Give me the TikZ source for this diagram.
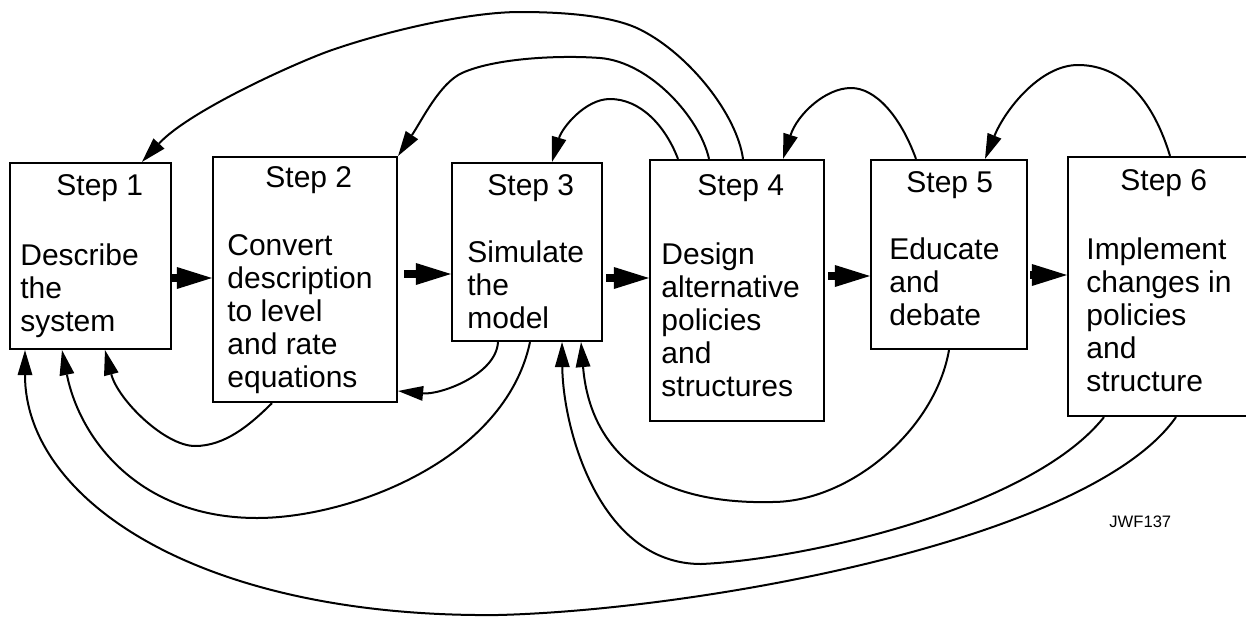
\documentclass[tikz,border=0pt]{standalone}
\usepackage{fontspec}
\setmainfont{Liberation Sans}
\usetikzlibrary{arrows.meta,fit}
\begin{document}
\begin{tikzpicture}[x=0.5pt,y=-0.5pt,
  box/.style={draw, line width=1.1pt, inner sep=0pt},
  ttl/.style={anchor=base west, inner sep=0pt, font=\fontsize{15}{16.5}\selectfont},
  body/.style={anchor=base west, inner sep=0pt, font=\fontsize{15}{16.5}\selectfont},
  fwd/.style={line width=4.2pt, -{Triangle[length=17.5pt,width=11pt,line width=0pt]}},
  fb/.style={line width=1pt, -{Triangle[length=12.5pt,width=7.5pt,line width=0pt]}}
]
\useasboundingbox (0,0) rectangle (1246,616);

% boxes
\node[box, fit={(10,163)(171,349)}] (b1) {};
\node[box, fit={(213,157)(397,402)}] (b2) {};
\node[box, fit={(452,163)(602,341)}] (b3) {};
\node[box, fit={(650,160)(824,421)}] (b4) {};
\node[box, fit={(871,160)(1027,349)}] (b5) {};
\node[box, fit={(1068,157)(1262,416)}] (b6) {};

% texts
\node[ttl] (s1) at (56,195) {Step 1};
\node[body] (x1) at (20,265) {\begin{tabular}[t]{@{}l@{}}Describe\\the\\system\end{tabular}};
\node[ttl] (s2) at (265,187) {Step 2};
\node[body] (x2) at (227,255) {\begin{tabular}[t]{@{}l@{}}Convert\\description\\to level\\and rate\\equations\end{tabular}};
\node[ttl] (s3) at (487,195) {Step 3};
\node[body] (x3) at (467,262) {\begin{tabular}[t]{@{}l@{}}Simulate\\the\\model\end{tabular}};
\node[ttl] (s4) at (697,195) {Step 4};
\node[body] (x4) at (661,264) {\begin{tabular}[t]{@{}l@{}}Design\\alternative\\policies\\and\\structures\end{tabular}};
\node[ttl] (s5) at (906,192) {Step 5};
\node[body] (x5) at (889,259) {\begin{tabular}[t]{@{}l@{}}Educate\\and\\debate\end{tabular}};
\node[ttl] (s6) at (1120,190) {Step 6};
\node[body] (x6) at (1086,259) {\begin{tabular}[t]{@{}l@{}}Implement\\changes in\\policies\\and\\structure\end{tabular}};

\node[anchor=base west, inner sep=0pt, font=\fontsize{8.3}{10}\selectfont] (code) at (1109,527) {JWF137};

% forward arrows
\draw[fwd] (b1.east |- 0,278) -- (b2.west |- 0,278);
\draw[fwd, shorten <=3pt] (b2.east |- 0,274) -- (b3.west |- 0,274);
\draw[fwd, shorten <=1.5pt] (b3.east |- 0,278) -- (b4.west |- 0,278);
\draw[fwd, shorten <=1.5pt] (b4.east |- 0,276) -- (b5.west |- 0,276);
\draw[fwd, shorten <=1pt] (b5.east |- 0,275) -- (b6.west |- 0,275);

% top feedback arcs
\draw[fb] (b4.north -| 743,0) .. controls (737,115) and (690,55) .. (641,30)
  .. controls (612,15) and (560,12) .. (520,12)
  .. controls (470,12) and (390,30) .. (332,50)
  .. controls (300,61) and (190,110) .. (b1.north -| 142,0);
\draw[fb] (b4.north -| 709,0) .. controls (700,118) and (650,62) .. (600,58)
  .. controls (560,55) and (495,58) .. (462,73)
  .. controls (440,83) and (422,120) .. (b2.north east);
\draw[fb] (b4.north -| 678,0) .. controls (665,125) and (640,99) .. (610,99)
  .. controls (585,99) and (562,128) .. (b3.north -| 552,0);
\draw[fb] (b5.north -| 916,0) .. controls (900,115) and (875,88) .. (851,88)
  .. controls (825,88) and (797,115) .. (b4.north -| 783,0);
\draw[fb] (b6.north -| 1170,0) .. controls (1150,90) and (1115,65) .. (1078,65)
  .. controls (1040,65) and (1005,110) .. (b5.north -| 985,0);

% bottom feedback arcs
\draw[fb] (b3.south -| 498,0) .. controls (496,375) and (440,395) .. (b2.east |- 0,391);
\draw[fb] (b2.south -| 272,0) .. controls (250,425) and (225,446) .. (195,446)
  .. controls (165,446) and (118,400) .. (b1.south -| 105,0);
\draw[fb] (b3.south -| 530,0) .. controls (505,460) and (350,518) .. (257,518)
  .. controls (140,518) and (80,440) .. (b1.south -| 62,0);
\draw[fb] (b6.south -| 1176,0) .. controls (1090,540) and (700,610) .. (498,615)
  .. controls (200,618) and (25,500) .. (b1.south -| 25,0);
\draw[fb] (b5.south -| 949,0) .. controls (935,430) and (850,502) .. (772,502)
  .. controls (650,505) and (590,450) .. (b3.south -| 581,0);
\draw[fb] (b6.south -| 1104,0) .. controls (1030,510) and (800,560) .. (701,564)
  .. controls (600,564) and (563,430) .. (b3.south -| 562,0);
\end{tikzpicture}
\end{document}
